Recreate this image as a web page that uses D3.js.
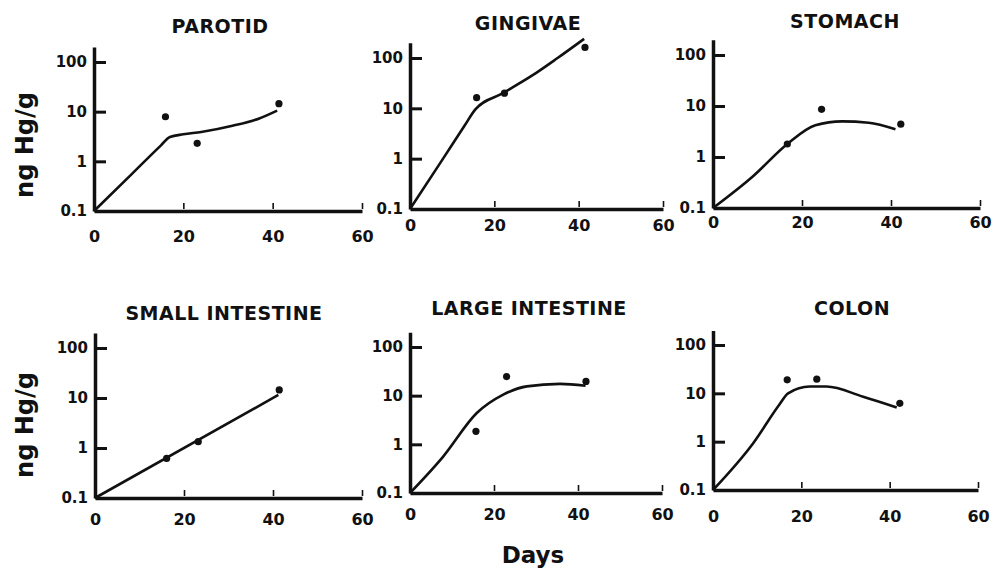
<!DOCTYPE html>
<html lang="en">
<head>
<meta charset="UTF-8">
<title>Hg content in tissues vs days</title>
<script src="https://cdnjs.cloudflare.com/ajax/libs/d3/7.8.5/d3.min.js"></script>
<style>
    body { margin: 0; background: #fff; }
    svg { display: block; }
    text { font-family: "DejaVu Sans", Arial, sans-serif; font-weight: bold; fill: #111; }
    .axis path, .axis line { stroke: #111; }
    .axis path { stroke-width: 3.5px; }
    .yaxis .tick line { stroke-width: 3px; }
    .xaxis .tick line { stroke-width: 1.6px; }
    .title { font-size: 19px; letter-spacing: 0.5px; }
    .fit { fill: none; stroke: #111; stroke-width: 2.6px; }
</style>
</head>
<body>
<div id="chart"></div>
<script>
// measured values: [day, ng Hg/g]
const parotidPts  = [[16, 7.9], [23.1, 2.3], [41.4, 14.5]];
const parotidFit  = [[0, 0.1], [8.5, 0.56], [15, 2.1], [17, 3.1], [20, 3.5], [24, 3.9], [31, 5.2], [37, 7.3], [41, 10.5]];
const gingivaePts = [[15.8, 16.3], [22.4, 20], [41.5, 162]];
const gingivaeFit = [[0, 0.1], [8, 1.05], [13, 4.6], [15.5, 9.5], [22, 20], [29, 45], [35, 100], [41.3, 240]];
const stomachPts  = [[16.7, 1.8], [24.4, 8.6], [42.2, 4.4]];
const stomachFit  = [[0, 0.1], [9, 0.42], [16.7, 1.8], [23, 4.2], [29, 5.0], [35, 4.7], [41, 3.5]];
const smallPts    = [[16.1, 0.62], [23.2, 1.34], [41.4, 14.5]];
const smallFit    = [[0, 0.1], [41.2, 11.5]];
const largePts    = [[15.7, 1.85], [23.0, 24.7], [41.9, 19.6]];
const largeFit    = [[0, 0.1], [7.9, 0.56], [15.9, 4.4], [22.2, 10.5], [27.8, 15.5], [35.7, 17.5], [41.8, 16]];
const colonPts    = [[16.8, 19], [23.5, 19.6], [42.3, 6.2]];
const colonFit    = [[0, 0.1], [9.1, 0.93], [15, 5.8], [17, 10], [21.9, 13.8], [25.7, 13.8], [34, 8.5], [41.6, 5.1]];

const titles = ["PAROTID", "GINGIVAE", "STOMACH", "SMALL INTESTINE", "LARGE INTESTINE", "COLON"];
const xTicks = [0, 20, 40, 60];
const yTicks = [0.1, 1, 10, 100];
const yTickLabels = ["0.1", "1", "10", "100"];

const pointSets = [parotidPts, gingivaePts, stomachPts, smallPts, largePts, colonPts];
const fitSets = [parotidFit, gingivaeFit, stomachFit, smallFit, largeFit, colonFit];

// panel geometry (scan is slightly skewed, so each panel has its own)
const layout = [
    { x0: 94,  x1: 362, yBot: 211, yTop: 62,  lab: 242, tx: 220, ty: 33 },
    { x0: 410, x1: 663, yBot: 209, yTop: 58,  lab: 231, tx: 528, ty: 30 },
    { x0: 713, x1: 980, yBot: 208, yTop: 55,  lab: 228, tx: 845, ty: 28 },
    { x0: 95,  x1: 362, yBot: 498, yTop: 348, lab: 525, tx: 224, ty: 320 },
    { x0: 410, x1: 662, yBot: 493, yTop: 347, lab: 520, tx: 529, ty: 315 },
    { x0: 713, x1: 978, yBot: 490, yTop: 345, lab: 522, tx: 852, ty: 315 }
];

const svg = d3.select("#chart").append("svg")
    .attr("width", 995)
    .attr("height", 570);

layout.forEach((L, i) => {
    const x = d3.scaleLinear().domain([0, 60]).range([L.x0, L.x1]);
    const y = d3.scaleLog().domain([0.1, 100]).range([L.yBot, L.yTop]);
    const yAx = y.copy().domain([0.1, 200]).range([L.yBot, y(200)]);

    const g = svg.append("g");

    g.append("text")
        .attr("class", "title")
        .attr("x", L.tx)
        .attr("y", L.ty)
        .attr("text-anchor", "middle")
        .text(titles[i]);

    g.append("g")
        .attr("class", "axis xaxis")
        .attr("transform", `translate(0,${L.yBot})`)
        .call(d3.axisBottom(x)
            .tickValues(xTicks)
            .tickSize(-7)
            .tickSizeOuter(0)
            .tickPadding(L.lab - L.yBot - 11.4)
            .tickFormat(d3.format("d")))
        .call(ax => ax.selectAll(".tick text").style("font-size", "16px"))
        .call(ax => ax.selectAll(".tick line").attr("y1", -2).attr("y2", -8))
        .call(ax => ax.selectAll(".tick").filter(d => d === 0).select("line").remove());

    g.append("g")
        .attr("class", "axis yaxis")
        .attr("transform", `translate(${L.x0},0)`)
        .call(d3.axisLeft(yAx)
            .tickValues(yTicks)
            .tickSize(-12)
            .tickSizeOuter(0)
            .tickPadding(7)
            .tickFormat((d, k) => yTickLabels[k]))
        .call(ax => ax.selectAll(".tick text").style("font-size", "15px"))
        .call(ax => ax.selectAll(".tick").filter(d => d === 0.1).select("line").remove());

    const line = d3.line()
        .x(d => x(d[0]))
        .y(d => y(d[1]))
        .curve(d3.curveMonotoneX);

    g.append("path")
        .attr("class", "fit")
        .attr("d", line(fitSets[i]));

    g.selectAll("circle")
        .data(pointSets[i])
        .enter().append("circle")
        .attr("cx", d => x(d[0]))
        .attr("cy", d => y(d[1]))
        .attr("r", 3.6)
        .attr("fill", "#111");
});

[145, 425].forEach(cy => {
    svg.append("text")
        .attr("transform", `translate(33,${cy}) rotate(-90)`)
        .attr("text-anchor", "middle")
        .style("font-size", "24px")
        .text("ng Hg/g");
});

svg.append("text")
    .attr("x", 533)
    .attr("y", 563)
    .attr("text-anchor", "middle")
    .style("font-size", "23px")
    .text("Days");
</script>
</body>
</html>
